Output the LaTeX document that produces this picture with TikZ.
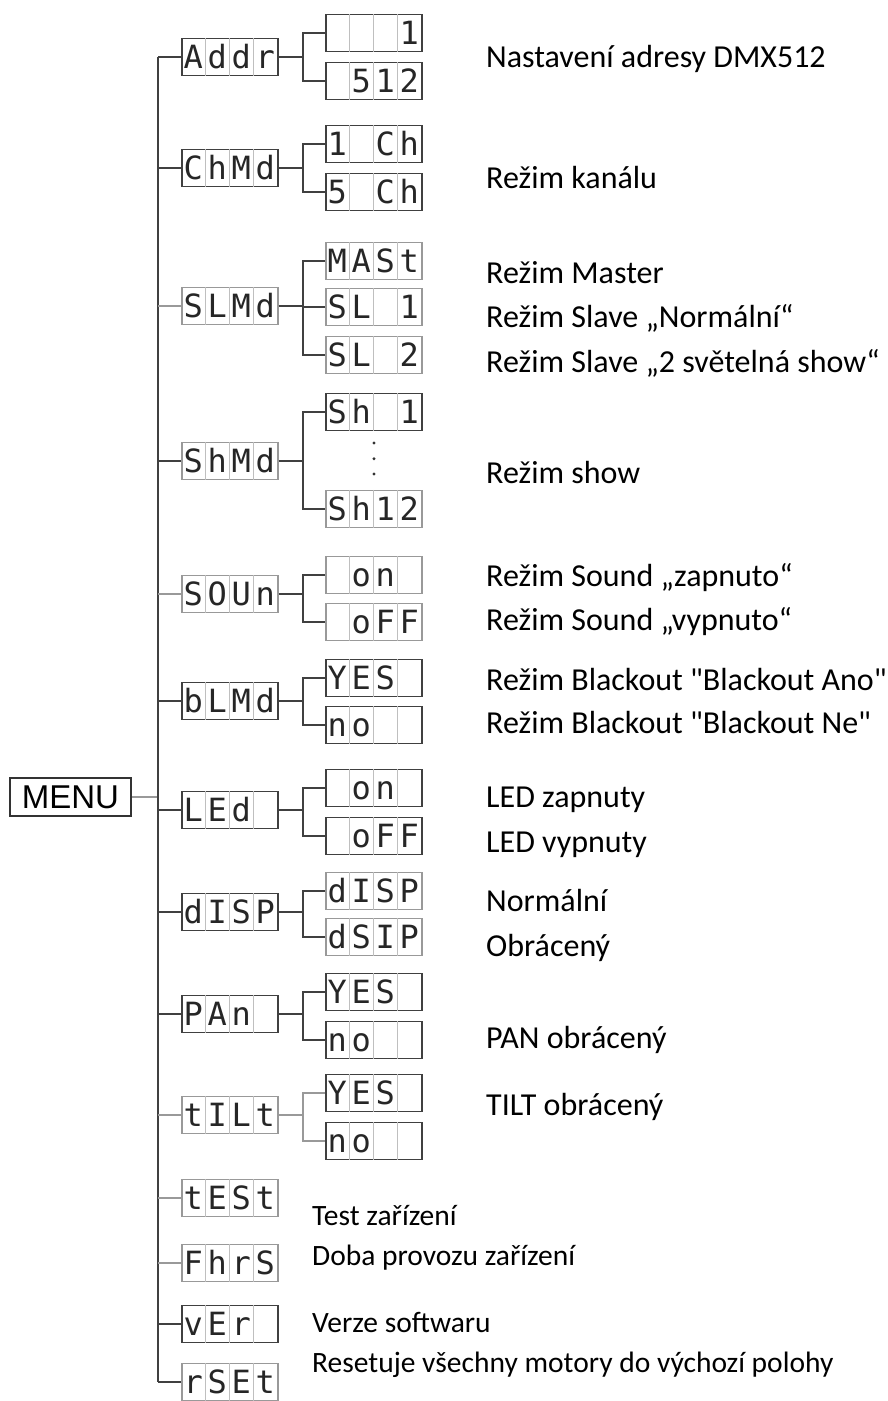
\documentclass[tikz,border=0pt]{standalone}
\usepackage{fontspec}
\setmainfont{Carlito}[Ligatures=TeXOff]
\newfontfamily\lcdfont{DejaVu Sans Mono}
\newfontfamily\keyfont{Liberation Sans}
\usetikzlibrary{calc}
\usetikzlibrary{positioning}
\tikzset{
    % Outline of a four digit display
    lcd/.style={
        draw=black!75, line width=1.5pt, inner sep=0pt,
        minimum width=96pt, minimum height=37pt},
%
    % The same display, printed more faintly
    faint lcd/.style={lcd, draw=black!40},
%
    % One digit of a display
    digit/.style={
        inner sep=0pt, text height=23pt, text depth=0pt, text=black!85,
        font=\lcdfont\fontsize{32}{32}\selectfont},
%
    % Thin rule between two digits
    cell rule/.style={black!25, line width=0.6pt},
%
    % Lines of the menu tree
    branch/.style={black!75, line width=1.5pt},
    faint branch/.style={black!40, line width=1.2pt},
%
    % The MENU key
    menu key/.style={
        draw=black!80, line width=2pt, inner sep=0pt,
        minimum width=121pt, minimum height=38pt,
        font=\keyfont\fontsize{33}{33}\selectfont},
%
    % Explanations to the right of the displays
    note/.style={anchor=base west, inner sep=0pt,
        font=\fontsize{32}{32}\selectfont},
    small note/.style={note, font=\fontsize{29.5}{29.5}\selectfont}}

% \display[options]{name}{position}{digit list}
\newcommand\display[4][]{%
    \node[lcd, #1] (#2) at (#3) {};
    \foreach \n in {1,2,3}
        \draw[cell rule] ($(#2.north west)+(\n*24,0)$)
            -- ($(#2.south west)+(\n*24,0)$);
    \foreach \ch [count=\n] in {#4}
        \node[digit] (#2-\n) at ($(#2.west)+(\n*24-12,0)$) {\ch};
}

\begin{document}
\begin{tikzpicture}[x=1pt, y=-1pt]
\useasboundingbox (0,0) rectangle (888,1401);

\coordinate (trunk) at (158,0);
\coordinate (fork) at (303,0);

\node[menu key] (menu) at (70.5,797) {MENU};

% first level
\display{addr}{230,57}{A,d,d,r}
\display{chmd}{230,168}{C,h,M,d}
\display[faint lcd]{slmd}{230,306}{S,L,M,d}
\display[faint lcd]{shmd}{230,461}{S,h,M,d}
\display[faint lcd]{soun}{230,594}{S,O,U,n}
\display{blmd}{230,701}{b,L,M,d}
\display{led}{230,810}{L,E,d,{}}
\display{disp}{230,912}{d,I,S,P}
\display{pan}{230,1014}{P,A,n,{}}
\display[faint lcd]{tilt}{230,1115}{t,I,L,t}
\display[faint lcd]{test}{230,1198}{t,E,S,t}
\display[faint lcd]{fhrs}{230,1263}{F,h,r,S}
\display{ver}{230,1324}{v,E,r,{}}
\display[faint lcd]{rset}{230,1382}{r,S,E,t}

% second level
\display{addr1}{374,33}{{},{},{},1}
\display{addr2}{374,81}{{},5,1,2}
\display{chmd1}{374,144}{1,{},C,h}
\display{chmd2}{374,192}{5,{},C,h}
\display[faint lcd]{slmd1}{374,261}{M,A,S,t}
\display[faint lcd]{slmd2}{374,307}{S,L,{},1}
\display[faint lcd]{slmd3}{374,355}{S,L,{},2}
\display{shmd1}{374,412}{S,h,{},1}
\display[faint lcd]{shmd2}{374,509}{S,h,1,2}
\display[faint lcd]{soun1}{374,575}{{},o,n,{}}
\display[faint lcd]{soun2}{374,622}{{},o,F,F}
\display{blmd1}{374,678}{Y,E,S,{}}
\display{blmd2}{374,725}{n,o,{},{}}
\display{led1}{374,788}{{},o,n,{}}
\display{led2}{374,836}{{},o,F,F}
\display[faint lcd]{disp1}{374,891}{d,I,S,P}
\display[faint lcd]{disp2}{374,937}{d,S,I,P}
\display{pan1}{374,992}{Y,E,S,{}}
\display{pan2}{374,1040}{n,o,{},{}}
\display{tilt1}{374,1093}{Y,E,S,{}}
\display{tilt2}{374,1141}{n,o,{},{}}

% the tree
\draw[faint branch] (menu.east) -- (trunk |- menu.east);
\draw[branch] (trunk |- addr) -- (trunk |- rset);
\foreach \m/\s in {addr/branch, chmd/branch, slmd/faint branch,
        shmd/branch, soun/faint branch, blmd/branch, led/branch,
        disp/branch, pan/branch, tilt/faint branch, test/faint branch,
        fhrs/faint branch, ver/branch, rset/branch}
    \draw[\s] (trunk |- \m.west) -- (\m.west);
\foreach \p/\k/\s in {addr/addr1/branch, addr/addr2/branch,
        chmd/chmd1/branch, chmd/chmd2/branch,
        slmd/slmd1/branch, slmd/slmd2/branch, slmd/slmd3/branch,
        shmd/shmd1/branch, shmd/shmd2/branch,
        soun/soun1/branch, soun/soun2/branch,
        blmd/blmd1/branch, blmd/blmd2/branch,
        led/led1/branch, led/led2/branch,
        disp/disp1/branch, disp/disp2/branch,
        pan/pan1/branch, pan/pan2/branch,
        tilt/tilt1/faint branch, tilt/tilt2/faint branch}
    \draw[\s] (\p.east) -- (fork |- \p.east) |- (\k.west);

% shows 2 to 11 left out
\foreach \t in {0.2,0.47,0.73}
    \fill[black!80] ($(shmd1.south)!\t!(shmd2.north)$) circle (1.6pt);

% explanations
\foreach \y/\txt [count=\n] in {
        67/Nastavení adresy DMX512,
        188/Režim kanálu,
        283/Režim Master,
        327/Režim Slave „Normální“,
        372/Režim Slave „2 světelná show“,
        483/Režim show,
        586/Režim Sound „zapnuto“,
        630/Režim Sound „vypnuto“,
        690/Režim Blackout "Blackout Ano",
        733/Režim Blackout "Blackout Ne",
        807/LED zapnuty,
        852/LED vypnuty,
        911/Normální,
        956/Obrácený,
        1048/PAN obrácený,
        1115/TILT obrácený}
    \node[note] (note\n) at (486,\y) {\txt};
\foreach \y/\txt [count=\n from 17] in {
        1225/Test zařízení,
        1265/Doba provozu zařízení,
        1332/Verze softwaru,
        1372/Resetuje všechny motory do výchozí polohy}
    \node[small note] (note\n) at (312,\y) {\txt};

\end{tikzpicture}
\end{document}
